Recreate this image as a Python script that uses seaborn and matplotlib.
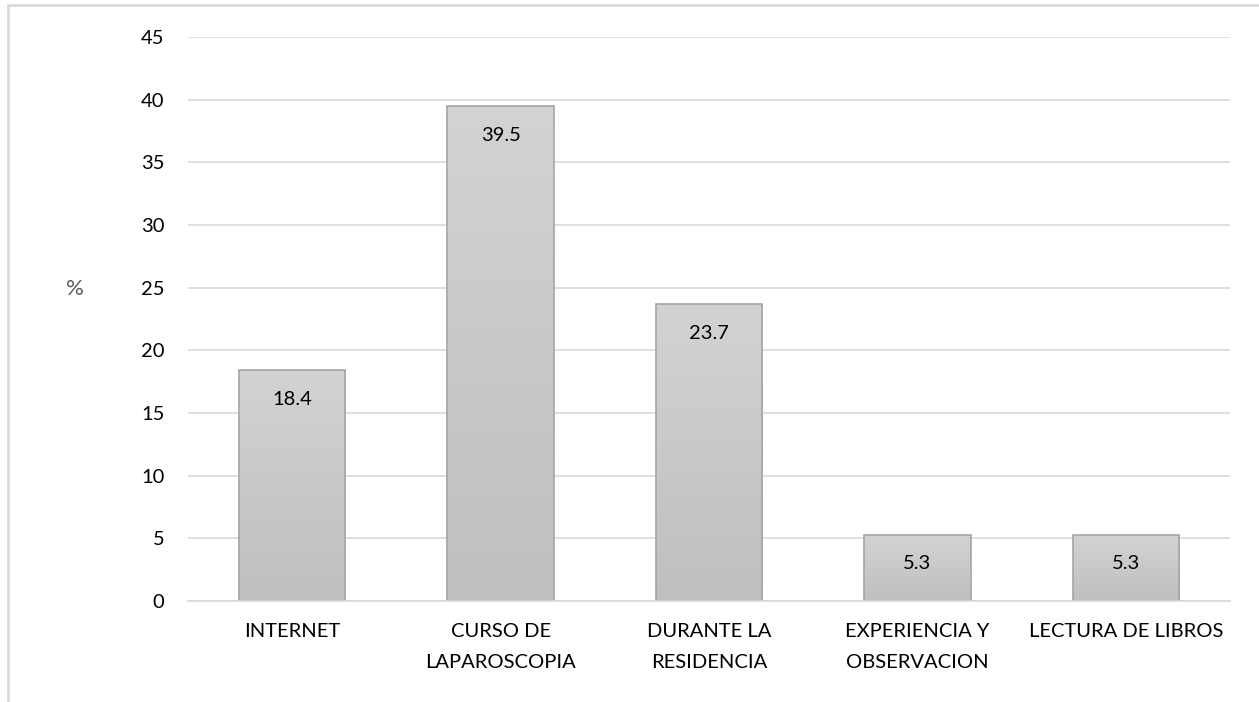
import matplotlib
matplotlib.use("Agg")
import matplotlib.pyplot as plt
from matplotlib.lines import Line2D
import numpy as np
import pandas as pd
import seaborn as sns

categories = ["INTERNET", "CURSO DE\nLAPAROSCOPIA", "DURANTE LA\nRESIDENCIA",
              "EXPERIENCIA Y\nOBSERVACION", "LECTURA DE LIBROS"]
values = [18.4, 39.5, 23.7, 5.3, 5.3]
y_ticks = [0, 5, 10, 15, 20, 25, 30, 35, 40, 45]

df = pd.DataFrame({"fuente": categories, "pct": values})

sns.set_theme(style="white")
plt.rcParams["font.family"] = ["Lato", "DejaVu Sans"]

fig = plt.figure(figsize=(12.59, 7.02), dpi=100)
ax = fig.add_axes([188 / 1259, 1 - 601 / 702, (1230 - 188) / 1259, (601 - 37) / 702])

sns.barplot(data=df, x="fuente", y="pct", ax=ax, color="#c8c8c8",
            edgecolor="#a5a5a5", linewidth=1.2, width=0.51, saturation=1)

# vertical gray gradient inside each bar: lighter at the top, darker at the base
grad = np.linspace(0, 1, 256).reshape(-1, 1)
cmap = matplotlib.colors.LinearSegmentedColormap.from_list("g", ["#d3d3d3", "#bfbfbf"])
for patch in ax.patches:
    x0, y0 = patch.get_x(), patch.get_y()
    w, h = patch.get_width(), patch.get_height()
    im = ax.imshow(grad, extent=[x0, x0 + w, y0, y0 + h], cmap=cmap, origin="upper",
                   aspect="auto", zorder=patch.get_zorder() + 0.01)
    im.set_clip_path(patch)
    patch.set_facecolor("none")
    patch.set_zorder(patch.get_zorder() + 0.1)

ax.set_xlim(-0.5, len(categories) - 0.5)
ax.set_ylim(0, 45)
ax.set_yticks(y_ticks)
ax.set_yticklabels([str(t) for t in y_ticks])

ax.yaxis.grid(True, color="#d9d9d9", linewidth=1.2)
ax.set_axisbelow(True)
for s in ["top", "right", "left"]:
    ax.spines[s].set_visible(False)
ax.spines["bottom"].set_color("#d9d9d9")
ax.spines["bottom"].set_linewidth(1.2)

ax.tick_params(axis="both", length=0, labelsize=14.5, colors="#000000")
ax.tick_params(axis="y", pad=17)
ax.tick_params(axis="x", pad=16)
for lab in ax.get_xticklabels():
    lab.set_linespacing(2.0)
    lab.set_verticalalignment("top")

ax.set_xlabel("")
ax.set_ylabel("%", rotation=0, fontsize=16, color="#595959", va="center")
ax.yaxis.set_label_coords(-113 / 1042, 0.553)

# value labels inside the bars, near the top
for i, v in enumerate(values):
    ax.annotate(f"{v}", xy=(i, v), xytext=(0, -21), textcoords="offset points",
                ha="center", va="center", fontsize=14.5, color="#000000", zorder=5)

# outer frame lines at the left and top edges
fig.add_artist(Line2D([8 / 1259, 8 / 1259], [0, 1 - 5 / 702], color="#d9d9d9", lw=2))
fig.add_artist(Line2D([8 / 1259, 1], [1 - 5 / 702, 1 - 5 / 702], color="#d9d9d9", lw=2))

fig.savefig("out.png", dpi=100, facecolor="white")
